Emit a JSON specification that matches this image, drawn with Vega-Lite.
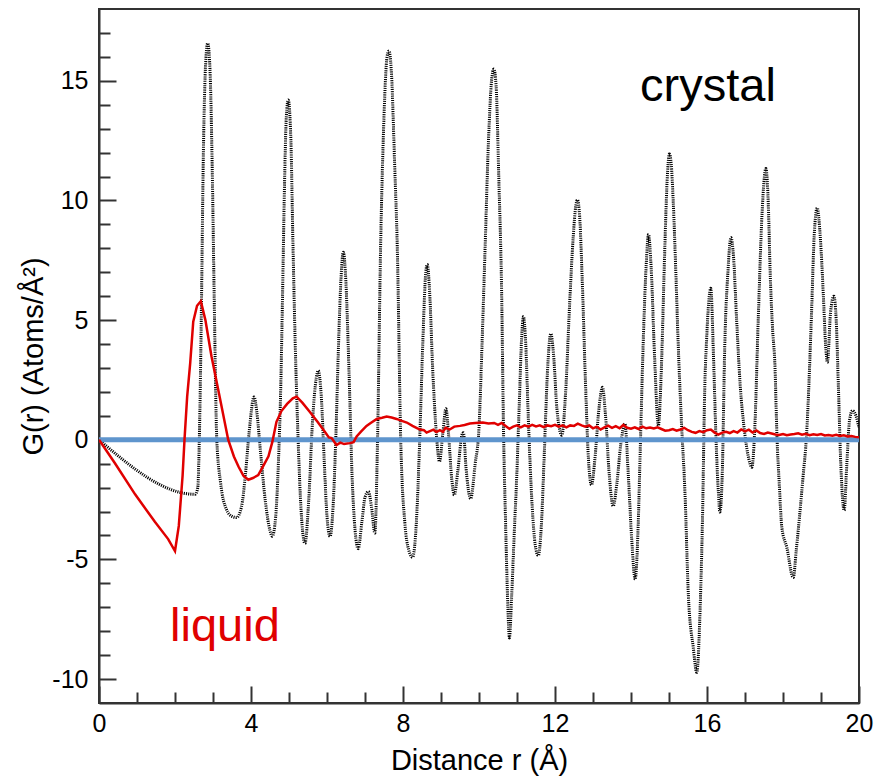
{
  "$schema": "https://vega.github.io/schema/vega-lite/v6.json",
  "width": 760,
  "height": 694,
  "autosize": "none",
  "padding": {"left": 99, "top": 9, "right": 15, "bottom": 74},
  "background": "white",
  "config": {
    "view": {"stroke": "#333", "strokeWidth": 2},
    "font": "Liberation Sans"
  },
  "datasets": {
    "crystal": [
      {"r": 0, "G": 0}, {"r": 2.53, "G": -2.28}, {"r": 2.6, "G": -2.0}, {"r": 2.64, "G": 0}, {"r": 2.7, "G": 6.1},
      {"r": 2.74, "G": 11.3}, {"r": 2.8, "G": 15.5}, {"r": 2.86, "G": 16.57}, {"r": 2.92, "G": 15.5}, {"r": 2.98, "G": 11.3},
      {"r": 3.03, "G": 6.1}, {"r": 3.1, "G": 0}, {"r": 3.2, "G": -1.8}, {"r": 3.35, "G": -2.9}, {"r": 3.5, "G": -3.2},
      {"r": 3.62, "G": -3.25}, {"r": 3.75, "G": -2.8}, {"r": 3.85, "G": -1.5}, {"r": 3.95, "G": 0.3}, {"r": 4.08, "G": 1.79},
      {"r": 4.15, "G": 1.2}, {"r": 4.25, "G": -0.5}, {"r": 4.38, "G": -2.6}, {"r": 4.5, "G": -3.8}, {"r": 4.56, "G": -4.03},
      {"r": 4.65, "G": -3.2}, {"r": 4.72, "G": -1.0}, {"r": 4.78, "G": 2.0}, {"r": 4.83, "G": 6.0}, {"r": 4.88, "G": 10.5},
      {"r": 4.93, "G": 13.5}, {"r": 4.98, "G": 14.2}, {"r": 5.05, "G": 12.5}, {"r": 5.1, "G": 8.5}, {"r": 5.16, "G": 4.26},
      {"r": 5.24, "G": 0}, {"r": 5.32, "G": -3.0}, {"r": 5.42, "G": -4.33}, {"r": 5.52, "G": -2.5}, {"r": 5.62, "G": 0.8},
      {"r": 5.72, "G": 2.6}, {"r": 5.77, "G": 2.89}, {"r": 5.85, "G": 1.8}, {"r": 5.93, "G": -1.0}, {"r": 6.0, "G": -3.2},
      {"r": 6.08, "G": -4.04}, {"r": 6.16, "G": -2.8}, {"r": 6.24, "G": 0.5}, {"r": 6.3, "G": 3.8}, {"r": 6.37, "G": 6.8},
      {"r": 6.43, "G": 7.84}, {"r": 6.5, "G": 6.5}, {"r": 6.58, "G": 2.8}, {"r": 6.66, "G": -1.5}, {"r": 6.74, "G": -3.8},
      {"r": 6.82, "G": -4.55}, {"r": 6.92, "G": -3.4}, {"r": 7.0, "G": -2.4}, {"r": 7.09, "G": -2.17}, {"r": 7.17, "G": -2.8},
      {"r": 7.26, "G": -3.9}, {"r": 7.33, "G": 0}, {"r": 7.41, "G": 8.0}, {"r": 7.5, "G": 13.5}, {"r": 7.58, "G": 16.0},
      {"r": 7.63, "G": 16.25}, {"r": 7.7, "G": 15.2}, {"r": 7.78, "G": 11.5}, {"r": 7.85, "G": 8.0}, {"r": 7.94, "G": 0},
      {"r": 8.05, "G": -3.5}, {"r": 8.15, "G": -4.6}, {"r": 8.25, "G": -4.91}, {"r": 8.35, "G": -3.5}, {"r": 8.44, "G": 0},
      {"r": 8.52, "G": 4.0}, {"r": 8.6, "G": 7.0}, {"r": 8.64, "G": 7.32}, {"r": 8.7, "G": 6.2}, {"r": 8.78, "G": 3.0},
      {"r": 8.88, "G": 0.2}, {"r": 8.96, "G": -0.91}, {"r": 9.05, "G": 0.3}, {"r": 9.13, "G": 1.3}, {"r": 9.2, "G": 0.2},
      {"r": 9.28, "G": -1.6}, {"r": 9.35, "G": -2.31}, {"r": 9.45, "G": -1.2}, {"r": 9.55, "G": 0.2}, {"r": 9.59, "G": 0.29},
      {"r": 9.66, "G": -1.2}, {"r": 9.78, "G": -2.46}, {"r": 9.9, "G": -1.0}, {"r": 10.0, "G": 0.5}, {"r": 10.08, "G": 4.0},
      {"r": 10.16, "G": 8.0}, {"r": 10.25, "G": 12.5}, {"r": 10.33, "G": 15.0}, {"r": 10.39, "G": 15.49}, {"r": 10.45, "G": 14.8},
      {"r": 10.52, "G": 11.0}, {"r": 10.6, "G": 5.7}, {"r": 10.64, "G": 0.9}, {"r": 10.7, "G": -3.5}, {"r": 10.76, "G": -7.0},
      {"r": 10.8, "G": -8.28}, {"r": 10.86, "G": -6.5}, {"r": 10.93, "G": -3.8}, {"r": 10.99, "G": -1.65}, {"r": 11.06, "G": 1.5},
      {"r": 11.12, "G": 4.2}, {"r": 11.17, "G": 5.15}, {"r": 11.23, "G": 4.0}, {"r": 11.3, "G": 0.8}, {"r": 11.4, "G": -2.8},
      {"r": 11.48, "G": -4.4}, {"r": 11.56, "G": -4.84}, {"r": 11.64, "G": -3.6}, {"r": 11.72, "G": -0.5}, {"r": 11.8, "G": 2.8},
      {"r": 11.89, "G": 4.43}, {"r": 11.96, "G": 3.6}, {"r": 12.05, "G": 1.3}, {"r": 12.18, "G": 0.19}, {"r": 12.28, "G": 2.0},
      {"r": 12.38, "G": 5.5}, {"r": 12.48, "G": 8.5}, {"r": 12.55, "G": 9.8}, {"r": 12.59, "G": 10.02}, {"r": 12.65, "G": 9.3},
      {"r": 12.72, "G": 6.5}, {"r": 12.8, "G": 2.5}, {"r": 12.88, "G": -0.8}, {"r": 12.96, "G": -1.89}, {"r": 13.05, "G": -0.8},
      {"r": 13.15, "G": 1.2}, {"r": 13.25, "G": 2.19}, {"r": 13.33, "G": 1.0}, {"r": 13.43, "G": -1.5}, {"r": 13.53, "G": -2.77},
      {"r": 13.63, "G": -1.8}, {"r": 13.73, "G": -0.2}, {"r": 13.84, "G": 0.67}, {"r": 13.93, "G": -1.5}, {"r": 14.02, "G": -4.2},
      {"r": 14.11, "G": -5.83}, {"r": 14.18, "G": -4.0}, {"r": 14.25, "G": 0.0}, {"r": 14.33, "G": 4.5}, {"r": 14.4, "G": 7.3},
      {"r": 14.46, "G": 8.58}, {"r": 14.53, "G": 7.2}, {"r": 14.62, "G": 3.5}, {"r": 14.72, "G": 0.59}, {"r": 14.8, "G": 3.0},
      {"r": 14.88, "G": 7.5}, {"r": 14.95, "G": 10.8}, {"r": 15.01, "G": 11.94}, {"r": 15.06, "G": 11.5}, {"r": 15.11, "G": 10.0},
      {"r": 15.18, "G": 7.0}, {"r": 15.24, "G": 4.1}, {"r": 15.33, "G": 0.65}, {"r": 15.42, "G": -2.2}, {"r": 15.51, "G": -6.5},
      {"r": 15.64, "G": -8.7}, {"r": 15.73, "G": -9.72}, {"r": 15.83, "G": -6.5}, {"r": 15.88, "G": -3.4}, {"r": 15.94, "G": 2.1},
      {"r": 15.99, "G": 4.2}, {"r": 16.1, "G": 6.33}, {"r": 16.17, "G": 3.5}, {"r": 16.24, "G": -0.1}, {"r": 16.3, "G": -2.2},
      {"r": 16.34, "G": -3.02}, {"r": 16.4, "G": -1.5}, {"r": 16.47, "G": 4.1}, {"r": 16.55, "G": 7.0}, {"r": 16.63, "G": 8.45},
      {"r": 16.7, "G": 7.6}, {"r": 16.78, "G": 5.0}, {"r": 16.87, "G": 2.37}, {"r": 17.0, "G": 0.2}, {"r": 17.1, "G": -0.8},
      {"r": 17.18, "G": -1.15}, {"r": 17.25, "G": 0.2}, {"r": 17.35, "G": 5.1}, {"r": 17.45, "G": 9.5}, {"r": 17.55, "G": 11.33},
      {"r": 17.62, "G": 9.5}, {"r": 17.66, "G": 7.1}, {"r": 17.72, "G": 4.8}, {"r": 17.79, "G": 3.0}, {"r": 17.84, "G": 0.2},
      {"r": 17.9, "G": -1.8}, {"r": 17.97, "G": -3.67}, {"r": 18.1, "G": -4.5}, {"r": 18.27, "G": -5.76}, {"r": 18.35, "G": -4.6},
      {"r": 18.53, "G": -1.5}, {"r": 18.62, "G": 0.2}, {"r": 18.75, "G": 5.25}, {"r": 18.82, "G": 8.5}, {"r": 18.9, "G": 9.69},
      {"r": 18.98, "G": 8.5}, {"r": 19.06, "G": 6.1}, {"r": 19.12, "G": 4.0}, {"r": 19.17, "G": 3.24}, {"r": 19.25, "G": 5.3},
      {"r": 19.34, "G": 6.0}, {"r": 19.4, "G": 5.0}, {"r": 19.46, "G": 2.1}, {"r": 19.52, "G": -1.0}, {"r": 19.61, "G": -2.95},
      {"r": 19.68, "G": -1.0}, {"r": 19.75, "G": 0.8}, {"r": 19.83, "G": 1.22}, {"r": 19.92, "G": 1.0}, {"r": 20.0, "G": 0.5}
    ],
    "liquid": [
      {"r": 0, "G": 0}, {"r": 0.42, "G": -0.98}, {"r": 0.95, "G": -2.28}, {"r": 1.47, "G": -3.43}, {"r": 1.82, "G": -4.15},
      {"r": 2.0, "G": -4.65}, {"r": 2.1, "G": -3.6}, {"r": 2.2, "G": -1.5}, {"r": 2.25, "G": 0}, {"r": 2.32, "G": 1.8},
      {"r": 2.4, "G": 3.2}, {"r": 2.48, "G": 4.93}, {"r": 2.58, "G": 5.6}, {"r": 2.68, "G": 5.79}, {"r": 2.8, "G": 5.0},
      {"r": 2.96, "G": 3.49}, {"r": 3.18, "G": 1.76}, {"r": 3.4, "G": 0}, {"r": 3.55, "G": -0.7}, {"r": 3.67, "G": -1.12},
      {"r": 3.8, "G": -1.5}, {"r": 3.93, "G": -1.67}, {"r": 4.05, "G": -1.6}, {"r": 4.19, "G": -1.48}, {"r": 4.32, "G": -1.1},
      {"r": 4.46, "G": -0.69}, {"r": 4.56, "G": -0.1}, {"r": 4.67, "G": 0.75}, {"r": 4.8, "G": 1.2}, {"r": 4.95, "G": 1.5},
      {"r": 5.1, "G": 1.73}, {"r": 5.2, "G": 1.8}, {"r": 5.35, "G": 1.55}, {"r": 5.55, "G": 1.16}, {"r": 5.75, "G": 0.75},
      {"r": 5.9, "G": 0.43}, {"r": 6.05, "G": 0.1}, {"r": 6.12, "G": 0.07}, {"r": 6.25, "G": -0.22}, {"r": 6.35, "G": -0.12},
      {"r": 6.45, "G": -0.18}, {"r": 6.6, "G": -0.14}, {"r": 6.7, "G": -0.1}, {"r": 6.78, "G": 0.14}, {"r": 6.9, "G": 0.35},
      {"r": 7.04, "G": 0.58}, {"r": 7.15, "G": 0.7}, {"r": 7.31, "G": 0.87}, {"r": 7.45, "G": 0.92}, {"r": 7.57, "G": 0.97},
      {"r": 7.7, "G": 0.93}, {"r": 7.83, "G": 0.87}, {"r": 7.95, "G": 0.8}, {"r": 8.1, "G": 0.72}, {"r": 8.25, "G": 0.58},
      {"r": 8.38, "G": 0.48}, {"r": 8.45, "G": 0.43}, {"r": 8.55, "G": 0.4}, {"r": 8.62, "G": 0.3}, {"r": 8.71, "G": 0.36},
      {"r": 8.8, "G": 0.42}, {"r": 8.88, "G": 0.32}, {"r": 8.97, "G": 0.4}, {"r": 9.05, "G": 0.33}, {"r": 9.12, "G": 0.5},
      {"r": 9.23, "G": 0.43}, {"r": 9.35, "G": 0.55}, {"r": 9.5, "G": 0.58}, {"r": 9.62, "G": 0.62}, {"r": 9.76, "G": 0.68},
      {"r": 9.9, "G": 0.7}, {"r": 10.1, "G": 0.72}, {"r": 10.25, "G": 0.68}, {"r": 10.4, "G": 0.7}, {"r": 10.5, "G": 0.62},
      {"r": 10.6, "G": 0.7}, {"r": 10.7, "G": 0.58}, {"r": 10.8, "G": 0.46}, {"r": 10.9, "G": 0.55}, {"r": 11.0, "G": 0.6},
      {"r": 11.1, "G": 0.52}, {"r": 11.2, "G": 0.6}, {"r": 11.3, "G": 0.55}, {"r": 11.4, "G": 0.62}, {"r": 11.5, "G": 0.56},
      {"r": 11.6, "G": 0.6}, {"r": 11.7, "G": 0.53}, {"r": 11.8, "G": 0.6}, {"r": 11.9, "G": 0.57}, {"r": 12.0, "G": 0.62},
      {"r": 12.1, "G": 0.55}, {"r": 12.2, "G": 0.6}, {"r": 12.3, "G": 0.52}, {"r": 12.4, "G": 0.6}, {"r": 12.5, "G": 0.58},
      {"r": 12.6, "G": 0.67}, {"r": 12.7, "G": 0.6}, {"r": 12.8, "G": 0.55}, {"r": 12.9, "G": 0.6}, {"r": 13.0, "G": 0.48},
      {"r": 13.1, "G": 0.55}, {"r": 13.2, "G": 0.43}, {"r": 13.3, "G": 0.52}, {"r": 13.4, "G": 0.59}, {"r": 13.5, "G": 0.5},
      {"r": 13.6, "G": 0.57}, {"r": 13.7, "G": 0.48}, {"r": 13.8, "G": 0.62}, {"r": 13.9, "G": 0.5}, {"r": 14.0, "G": 0.46},
      {"r": 14.1, "G": 0.52}, {"r": 14.2, "G": 0.45}, {"r": 14.3, "G": 0.55}, {"r": 14.4, "G": 0.48}, {"r": 14.5, "G": 0.51},
      {"r": 14.6, "G": 0.47}, {"r": 14.7, "G": 0.52}, {"r": 14.8, "G": 0.45}, {"r": 14.9, "G": 0.38}, {"r": 15.0, "G": 0.4},
      {"r": 15.1, "G": 0.45}, {"r": 15.2, "G": 0.38}, {"r": 15.3, "G": 0.43}, {"r": 15.4, "G": 0.5}, {"r": 15.5, "G": 0.4},
      {"r": 15.6, "G": 0.33}, {"r": 15.7, "G": 0.29}, {"r": 15.8, "G": 0.36}, {"r": 15.9, "G": 0.32}, {"r": 16.0, "G": 0.4},
      {"r": 16.1, "G": 0.43}, {"r": 16.2, "G": 0.3}, {"r": 16.3, "G": 0.22}, {"r": 16.4, "G": 0.3}, {"r": 16.5, "G": 0.33},
      {"r": 16.6, "G": 0.28}, {"r": 16.7, "G": 0.36}, {"r": 16.8, "G": 0.3}, {"r": 16.9, "G": 0.43}, {"r": 17.0, "G": 0.35},
      {"r": 17.1, "G": 0.42}, {"r": 17.2, "G": 0.3}, {"r": 17.3, "G": 0.39}, {"r": 17.4, "G": 0.28}, {"r": 17.5, "G": 0.24},
      {"r": 17.6, "G": 0.3}, {"r": 17.7, "G": 0.26}, {"r": 17.8, "G": 0.22}, {"r": 17.9, "G": 0.2}, {"r": 18.0, "G": 0.24},
      {"r": 18.1, "G": 0.19}, {"r": 18.2, "G": 0.22}, {"r": 18.3, "G": 0.24}, {"r": 18.4, "G": 0.27}, {"r": 18.5, "G": 0.21},
      {"r": 18.6, "G": 0.25}, {"r": 18.7, "G": 0.19}, {"r": 18.8, "G": 0.23}, {"r": 18.9, "G": 0.2}, {"r": 19.0, "G": 0.24},
      {"r": 19.1, "G": 0.18}, {"r": 19.2, "G": 0.2}, {"r": 19.3, "G": 0.17}, {"r": 19.4, "G": 0.21}, {"r": 19.5, "G": 0.16},
      {"r": 19.6, "G": 0.19}, {"r": 19.7, "G": 0.14}, {"r": 19.8, "G": 0.16}, {"r": 19.9, "G": 0.12}, {"r": 20.0, "G": 0.1}
    ],
    "zero": [{"r": 0, "r2": 20, "G": 0}],
    "labels": [
      {"r": 14.24, "G": 14.14, "text": "crystal", "kind": "crystal"},
      {"r": 1.87, "G": -8.39, "text": "liquid", "kind": "liquid"}
    ]
  },
  "encoding": {
    "x": {
      "field": "r", "type": "quantitative",
      "scale": {"domain": [0, 20], "nice": false, "zero": false},
      "axis": {
        "title": "Distance r (Å)",
        "values": [0, 1, 2, 3, 4, 5, 6, 7, 8, 9, 10, 11, 12, 13, 14, 15, 16, 17, 18, 19, 20],
        "labelExpr": "datum.value % 4 === 0 ? '' + datum.value : ''",
        "tickSize": {"condition": {"test": "datum.value % 4 === 0", "value": -17}, "value": -11},
        "tickColor": "#333", "tickWidth": 2,
        "domainColor": "#333", "domainWidth": 2,
        "grid": false,
        "labelFont": "Liberation Sans", "labelFontSize": 25, "labelColor": "#000",
        "labelPadding": 25, "labelFlush": false, "labelOverlap": false,
        "titleFont": "Liberation Sans", "titleFontSize": 29, "titleFontWeight": "normal", "titleColor": "#000",
        "titlePadding": 4
      }
    },
    "y": {
      "field": "G", "type": "quantitative",
      "scale": {"domain": [-11, 18], "nice": false, "zero": false},
      "axis": {
        "title": "G(r) (Atoms/Å²)",
        "values": [-10, -9, -8, -7, -6, -5, -4, -3, -2, -1, 0, 1, 2, 3, 4, 5, 6, 7, 8, 9, 10, 11, 12, 13, 14, 15, 16, 17],
        "labelExpr": "datum.value % 5 === 0 ? '' + datum.value : ''",
        "tickSize": {"condition": {"test": "datum.value % 5 === 0", "value": -17}, "value": -11},
        "tickColor": "#333", "tickWidth": 2,
        "domainColor": "#333", "domainWidth": 2,
        "grid": false,
        "labelFont": "Liberation Sans", "labelFontSize": 25, "labelColor": "#000",
        "labelPadding": 28, "labelFlush": false, "labelOverlap": false,
        "titleFont": "Liberation Sans", "titleFontSize": 29, "titleFontWeight": "normal", "titleColor": "#000",
        "titlePadding": 3
      }
    }
  },
  "layer": [
    {
      "data": {"name": "crystal"},
      "mark": {"type": "line", "color": "#000000", "strokeWidth": 3, "strokeDash": [1.1, 1.1], "interpolate": "monotone", "clip": true}
    },
    {
      "data": {"name": "zero"},
      "mark": {"type": "rule", "color": "#5F95CD", "strokeWidth": 5},
      "encoding": {
        "x2": {"field": "r2"}
      }
    },
    {
      "data": {"name": "liquid"},
      "mark": {"type": "line", "color": "#E00000", "strokeWidth": 2.5, "clip": true}
    },
    {
      "data": {"name": "labels"},
      "mark": {"type": "text", "align": "left", "baseline": "alphabetic", "font": "Liberation Sans", "fontSize": 47},
      "encoding": {
        "text": {"field": "text"},
        "color": {"field": "kind", "type": "nominal", "scale": {"domain": ["crystal", "liquid"], "range": ["#000000", "#E00000"]}, "legend": null}
      }
    }
  ]
}
